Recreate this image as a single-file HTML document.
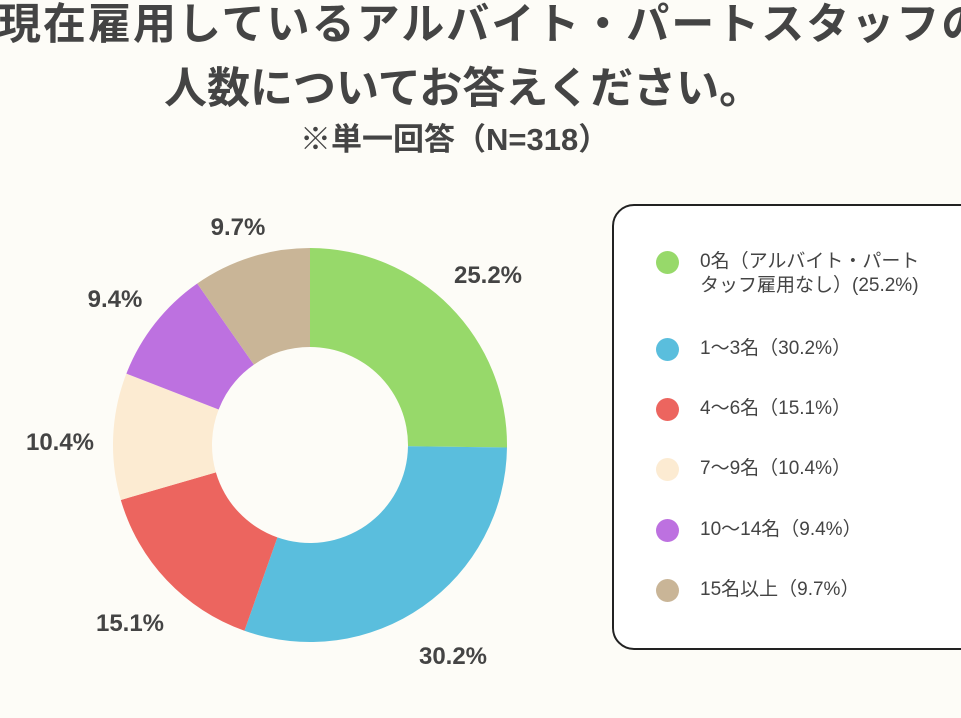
<!DOCTYPE html>
<html><head><meta charset="utf-8"><style>
body{margin:0;width:961px;height:718px;overflow:hidden;background:#fdfcf7;font-family:"Liberation Sans","Noto Sans CJK JP",sans-serif;color:#444;position:relative}
.t{position:absolute;font-weight:bold;white-space:nowrap}
.lab{position:absolute;font-weight:bold;font-size:24px;color:#444;transform:translate(-50%,-50%)}
.leg{position:absolute;left:612px;top:204px;width:400px;height:442px;border:2px solid #222;border-radius:22px;background:#fff}
.li{position:absolute;left:700px;font-size:19px;color:#444;line-height:24px;white-space:nowrap}
.dot{position:absolute;left:656px;width:23px;height:23px;border-radius:50%}
</style></head><body>
<div class="t" style="left:-16px;top:-10px;font-size:43px;letter-spacing:2px">/現在雇用しているアルバイト・パートスタッフの</div>
<div class="t" style="left:164px;top:54px;font-size:43px">人数についてお答えください。</div>
<div class="t" style="left:300px;top:114px;font-size:31px">※単一回答（N=318）</div>
<svg id="s" width="961" height="718" style="position:absolute;left:0;top:0"></svg>
<div class="lab" style="left:488px;top:276px">25.2%</div>
<div class="lab" style="left:453px;top:657px">30.2%</div>
<div class="lab" style="left:130px;top:624px">15.1%</div>
<div class="lab" style="left:60px;top:443px">10.4%</div>
<div class="lab" style="left:115px;top:300px">9.4%</div>
<div class="lab" style="left:238px;top:228px">9.7%</div>
<div class="leg"></div>
<div class="dot" style="top:251px;background:#97d96a"></div><div class="li" style="top:250px">0名（アルバイト・パート<br>タッフ雇用なし）(25.2%)</div>
<div class="dot" style="top:338px;background:#5abedd"></div><div class="li" style="top:337px">1〜3名（30.2%）</div>
<div class="dot" style="top:398px;background:#ec655f"></div><div class="li" style="top:397px">4〜6名（15.1%）</div>
<div class="dot" style="top:458px;background:#fcebd2"></div><div class="li" style="top:457px">7〜9名（10.4%）</div>
<div class="dot" style="top:519px;background:#bd71e0"></div><div class="li" style="top:518px">10〜14名（9.4%）</div>
<div class="dot" style="top:579px;background:#c9b597"></div><div class="li" style="top:578px">15名以上（9.7%）</div>
<script>
var v=[25.2,30.2,15.1,10.4,9.4,9.7],c=["#97d96a","#5abedd","#ec655f","#fcebd2","#bd71e0","#c9b597"];
var cx=310,cy=445,R=197,r=98,a=0,h="",tot=100;
function p(rad,ang){return [cx+rad*Math.sin(ang),cy-rad*Math.cos(ang)];}
v.forEach(function(x,i){var a0=a/tot*2*Math.PI;a+=x;var a1=a/tot*2*Math.PI;var l=(a1-a0)>Math.PI?1:0;
var A=p(R,a0),B=p(R,a1),C=p(r,a1),D=p(r,a0);
h+='<path fill="'+c[i]+'" d="M'+A+' A'+R+','+R+' 0 '+l+' 1 '+B+' L'+C+' A'+r+','+r+' 0 '+l+' 0 '+D+'Z"/>';});
document.getElementById('s').innerHTML=h;
</script>
</body></html>
